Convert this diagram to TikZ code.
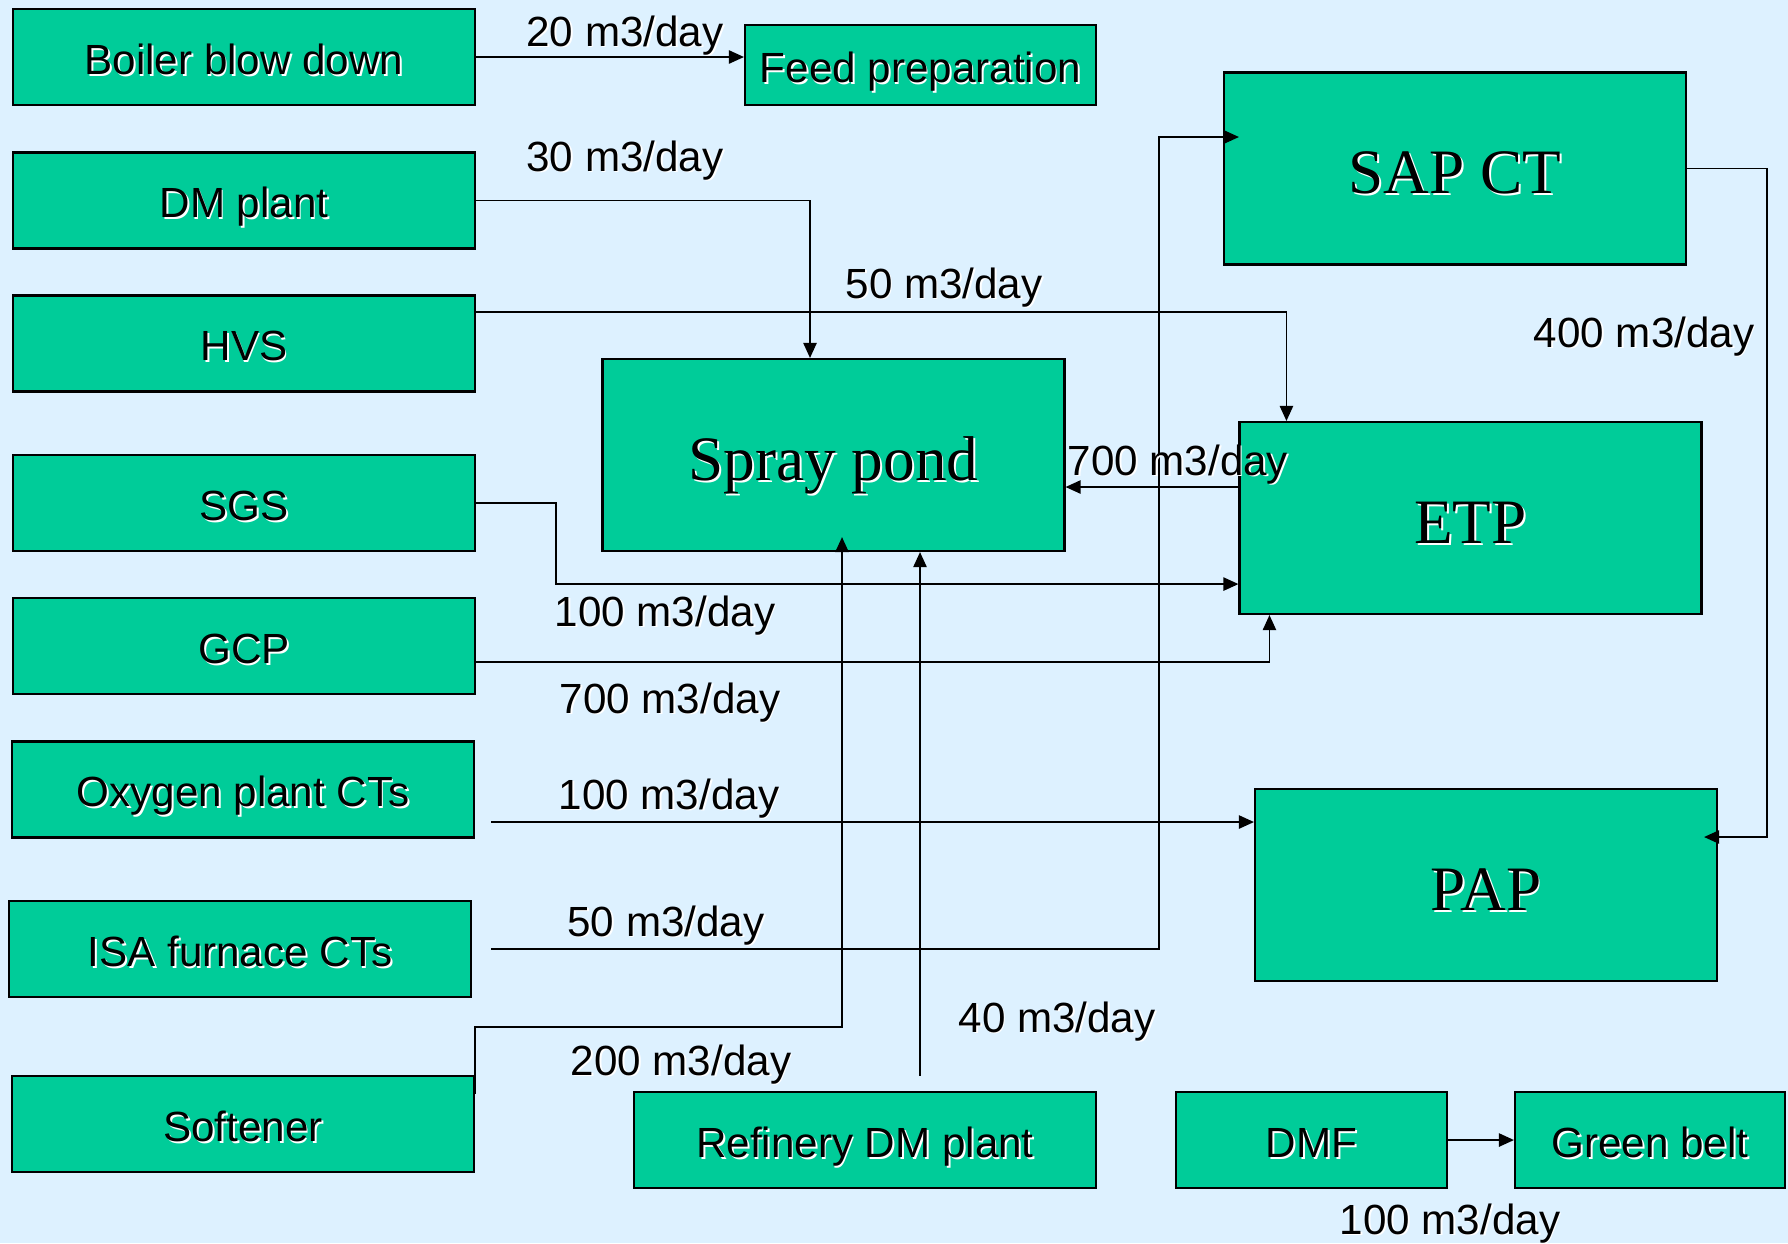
\documentclass[tikz,border=0pt]{standalone}
\usepackage{fontspec}
\setmainfont{Liberation Sans}
\newfontfamily\serifbig{Liberation Serif}
\usepackage{xcolor}
\usetikzlibrary{arrows.meta}
\definecolor{boxgreen}{HTML}{00CC99}
\definecolor{bgblue}{RGB}{221,241,255}
\newcommand{\shad}[1]{\rlap{\kern0.5pt\raisebox{-0.5pt}{\color{white}#1}}#1}

\begin{document}
\begin{tikzpicture}[
  box/.style={draw=black, line width=0.6pt, fill=boxgreen, minimum width=4.62cm, minimum height=0.96cm, inner sep=0pt, text height=9.9pt, text depth=0pt, font=\fontsize{12}{14}\selectfont},
  bigbox/.style={box, minimum height=1.92cm, text height=14.5pt, font=\serifbig\fontsize{18}{21}\selectfont},
  flow/.style={line width=0.45pt, -{Triangle[length=4.3pt,width=3.8pt]}},
  qty/.style={inner sep=0pt, font=\fontsize{12}{14}\selectfont}]
\fill[bgblue] (0,0) rectangle (17.88,-12.43);
\useasboundingbox (0,0) rectangle (17.88,-12.43);
%sources
\node[box] (boiler) at (2.44,-0.57) {\shad{Boiler blow down}};
\node[box] (dmplant) at (2.44,-2.005) {\shad{DM plant}};
\node[box] (hvs) at (2.44,-3.435) {\shad{HVS}};
\node[box] (sgs) at (2.44,-5.03) {\shad{SGS}};
\node[box] (gcp) at (2.44,-6.46) {\shad{GCP}};
\node[box] (oxygen) at (2.43,-7.895) {\shad{Oxygen plant CTs}};
\node[box] (isa) at (2.40,-9.49) {\shad{ISA furnace CTs}};
\node[box] (softener) at (2.43,-11.24) {\shad{Softener}};
\node[box] (refinery) at (8.65,-11.40) {\shad{Refinery DM plant}};
\node[box, minimum width=2.71cm] (dmf) at (13.115,-11.40) {\shad{DMF}};
\node[box, minimum width=2.70cm] (green) at (16.50,-11.40) {\shad{Green belt}};
\node[box, minimum width=3.51cm, minimum height=0.80cm] (feed) at (9.205,-0.65) {\shad{Feed preparation}};
%users
\node[bigbox] (spray) at (8.335,-4.55) {\shad{Spray pond}};
\node[bigbox] (sapct) at (14.55,-1.685) {\shad{SAP CT}};
\node[bigbox] (etp) at (14.705,-5.18) {\shad{ETP}};
\node[bigbox] (pap) at (14.86,-8.85) {\shad{PAP}};
%free ends
\coordinate (sapin) at ([xshift=1.6mm,yshift=3.15mm]sapct.west);
\coordinate (papin) at ([xshift=-1.4mm,yshift=4.8mm]pap.east);
\coordinate (sprayin) at ([xshift=0.85mm,yshift=1.5mm]spray.south);
\coordinate (oxyout) at ([xshift=1.6mm,yshift=-3.25mm]oxygen.east);
\coordinate (refout) at ([xshift=5.5mm,yshift=1.5mm]refinery.north);
\coordinate (etpout) at ([yshift=3.1mm]etp.west);
%flows
\draw[flow] (boiler.east) -- (boiler.east -| feed.west);
\draw[flow] (dmplant.east) -| ([xshift=-2.35mm]spray.north);
\draw[flow] ([yshift=3.15mm]hvs.east) -| ([xshift=4.8mm]etp.north west);
\draw[flow] (sgs.east) -- ++(0.8,0) |- ([yshift=3.1mm]etp.south west);
\draw[flow] ([yshift=-1.6mm]gcp.east) -| ([xshift=3.1mm]etp.south west);
\draw[flow] (oxyout) -- (oxyout -| pap.west);
\draw[flow] ([xshift=1.9mm]isa.east) -| ([xshift=-8mm]sapin) -- (sapin);
\draw[flow] ([yshift=-1.9mm]softener.north east) -- ++(0,0.67) -| (sprayin);
\draw[flow] (refout) -- (refout |- spray.south);
\draw[flow] (etpout) -- (etpout -| spray.east);
\draw[flow] (sapct.east) -| ([xshift=6.3mm]papin) -- (papin);
\draw[flow] (dmf) -- (green);
%quantities
\node[qty] (q1) at (6.25,-0.36) {\shad{20 m3/day}};
\node[qty] (q2) at (6.25,-1.61) {\shad{30 m3/day}};
\node[qty] (q3) at (9.44,-2.88) {\shad{50 m3/day}};
\node[qty] (q4) at (6.65,-6.16) {\shad{100 m3/day}};
\node[qty] (q5) at (6.70,-7.03) {\shad{700 m3/day}};
\node[qty] (q6) at (6.69,-7.99) {\shad{100 m3/day}};
\node[qty] (q7) at (6.66,-9.26) {\shad{50 m3/day}};
\node[qty] (q8) at (6.81,-10.65) {\shad{200 m3/day}};
\node[qty] (q9) at (10.57,-10.22) {\shad{40 m3/day}};
\node[qty, anchor=west] (q10) at (10.67,-4.65) {\shad{700 m3/day}};
\node[qty] (q11) at (16.44,-3.37) {\shad{400 m3/day}};
\node[qty] (q12) at (14.50,-12.24) {\shad{100 m3/day}};
\end{tikzpicture}
\end{document}
